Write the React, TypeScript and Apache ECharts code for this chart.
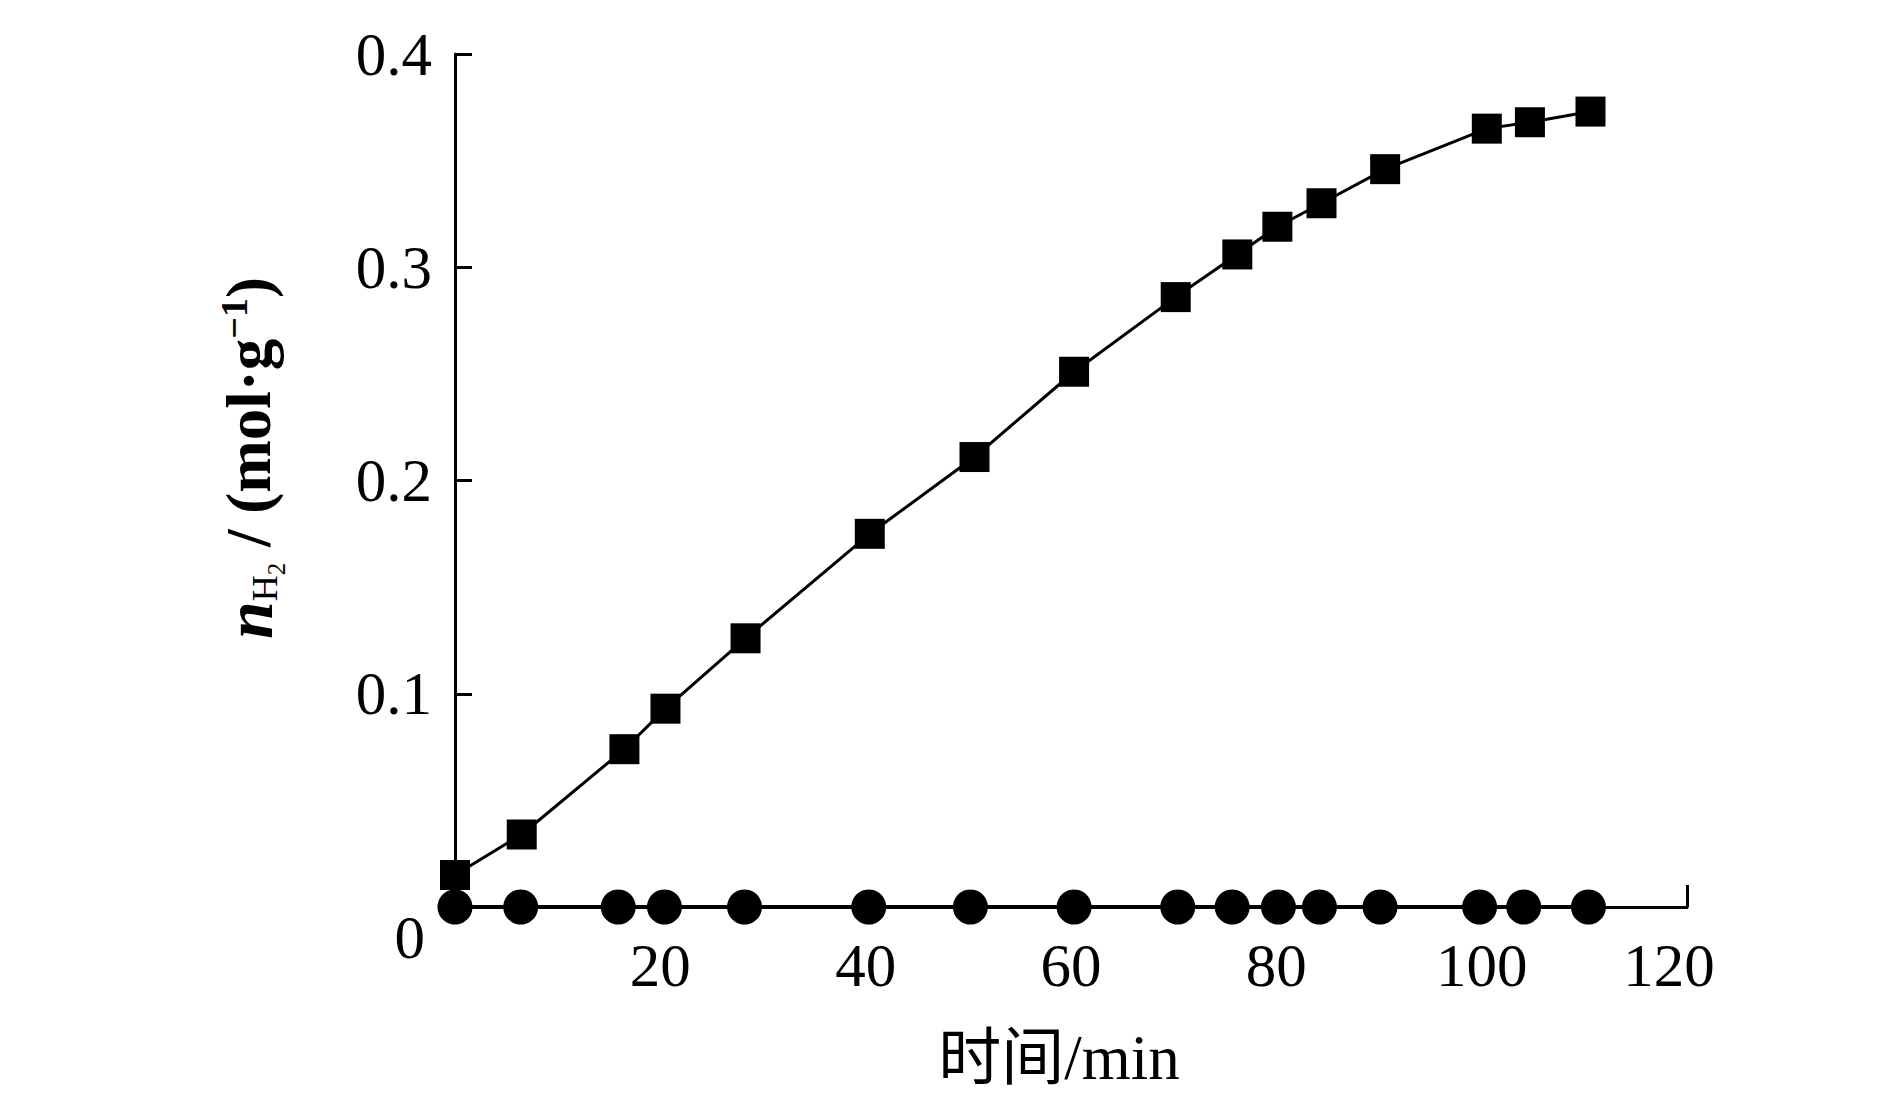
import React, { useEffect, useRef } from 'react';
import * as echarts from 'echarts';

// Time (min) and hydrogen yield (mol/g) — square series
const squareTime = [0, 6.5, 16.5, 20.5, 28.3, 40.4, 50.6, 60.3, 70.2, 76.2, 80.1, 84.4, 90.6, 100.5, 104.7, 110.6];
const squareValue = [0.015, 0.034, 0.074, 0.093, 0.126, 0.175, 0.211, 0.251, 0.286, 0.306, 0.319, 0.330, 0.346, 0.365, 0.368, 0.373];

// Circle series
const circleTime = [0, 6.4, 15.9, 20.4, 28.2, 40.3, 50.2, 60.3, 70.4, 75.7, 80.2, 84.2, 90.1, 99.8, 104.1, 110.4];
const circleValue = [0, 0, 0, 0, 0, 0, 0, 0, 0, 0, 0, 0, 0, 0, 0, 0];

const xMin = 0;
const xMax = 120;
const xStep = 20;
const yMin = 0;
const yMax = 0.4;
const yStep = 0.1;

const xTitle = '时间/min';

const SERIF = "'Liberation Serif','Times New Roman','DejaVu Serif',serif";

export default function App() {
  const ref = useRef<HTMLDivElement>(null);

  useEffect(() => {
    if (!ref.current) return;
    const chart = echarts.init(ref.current, null, { renderer: 'svg' });

    const squares = squareTime.map((t, i) => [t, squareValue[i]]);
    const circles = circleTime.map((t, i) => [t, circleValue[i]]);

    chart.setOption({
      animation: false,
      backgroundColor: '#ffffff',
      grid: { left: 455, top: 54, right: 203, bottom: 203, containLabel: false },
      xAxis: {
        type: 'value',
        min: xMin,
        max: xMax,
        interval: xStep,
        splitLine: { show: false },
        axisLine: { show: true, onZero: false, lineStyle: { color: '#000', width: 3 } },
        axisTick: {
          show: true,
          inside: true,
          length: 22,
          customValues: [xMax],
          lineStyle: { color: '#000', width: 3 },
        },
        axisLabel: {
          color: '#000',
          fontFamily: SERIF,
          fontSize: 61,
          margin: 28,
          formatter: (v: number) => (v === 0 ? '' : v === xMax ? '{e|' + v + '}' : String(v)),
          rich: {
            e: { fontFamily: SERIF, fontSize: 61, color: '#000', padding: [0, 36, 0, 0] },
          },
        },
      },
      yAxis: {
        type: 'value',
        min: yMin,
        max: yMax,
        interval: yStep,
        splitLine: { show: false },
        axisLine: { show: true, onZero: false, lineStyle: { color: '#000', width: 3 } },
        axisTick: { show: true, inside: true, length: 17, lineStyle: { color: '#000', width: 3 } },
        axisLabel: {
          color: '#000',
          fontFamily: SERIF,
          fontSize: 61,
          margin: 23,
          formatter: (v: number) => (v === 0 ? '{z|0}' : v.toFixed(1)),
          rich: {
            z: { fontFamily: SERIF, fontSize: 61, color: '#000', padding: [60, 7, 0, 0] },
          },
        },
      },
      graphic: [
        {
          type: 'text',
          x: 249,
          y: 458,
          rotation: Math.PI / 2,
          style: {
            text: '{n|n}{h|H}{two|2}{t| / (mol·g}{sup|−1}{t|)}',
            align: 'center',
            verticalAlign: 'middle',
            fill: '#000',
            rich: {
              n: { fontFamily: SERIF, fontStyle: 'italic', fontWeight: 'bold', fontSize: 68, lineHeight: 84, verticalAlign: 'middle' },
              h: { fontFamily: SERIF, fontSize: 36, lineHeight: 84, verticalAlign: 'bottom', padding: [0, 0, 8, 0] },
              two: { fontFamily: SERIF, fontSize: 25, lineHeight: 84, verticalAlign: 'bottom', padding: [0, 0, 2, 0] },
              t: { fontFamily: SERIF, fontWeight: 'bold', fontSize: 63, lineHeight: 84, verticalAlign: 'middle' },
              sup: { fontFamily: SERIF, fontWeight: 'bold', fontSize: 38, lineHeight: 84, verticalAlign: 'top', padding: [8, 0, 0, 0] },
            },
          },
        },
        {
          type: 'text',
          x: 1059,
          y: 1058,
          style: {
            text: xTitle,
            fontFamily: "'Liberation Serif','Noto Sans CJK SC',serif",
            fontSize: 63,
            fill: '#000',
            align: 'center',
            verticalAlign: 'middle',
          },
        },
      ],
      series: [
        {
          type: 'line',
          data: circles,
          symbol: 'circle',
          symbolSize: 35,
          lineStyle: { color: '#000', width: 4 },
          itemStyle: { color: '#000' },
          z: 3,
        },
        {
          type: 'line',
          data: squares,
          symbol: 'rect',
          symbolSize: 30,
          lineStyle: { color: '#000', width: 3 },
          itemStyle: { color: '#000' },
          z: 4,
        },
      ],
    });

    return () => chart.dispose();
  }, []);

  return (
    <div
      ref={ref}
      style={{ position: 'fixed', left: 0, top: 0, width: 1890, height: 1110, background: '#fff' }}
    />
  );
}
